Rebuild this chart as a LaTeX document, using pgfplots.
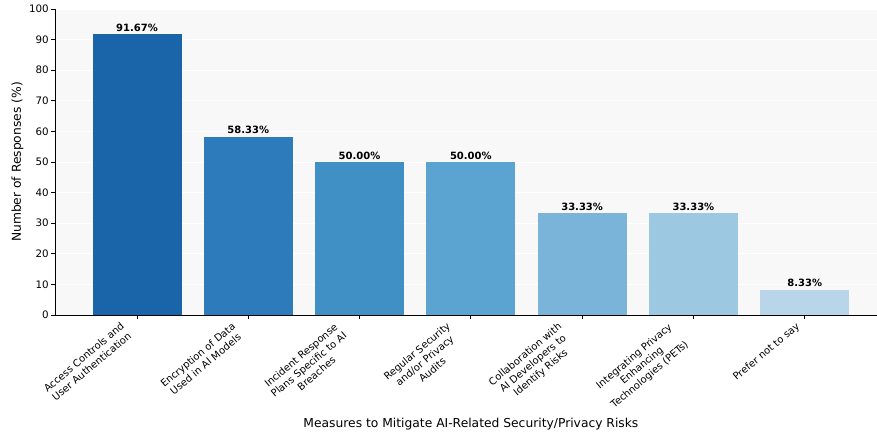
\documentclass[border=0pt]{standalone}
\usepackage{fontspec}
\setmainfont{DejaVu Sans}
\usepackage{pgfplots}
\pgfplotsset{compat=1.18}

\definecolor{b1}{HTML}{1A64AA}
\definecolor{b2}{HTML}{2D7BBA}
\definecolor{b3}{HTML}{4090C5}
\definecolor{b4}{HTML}{5BA3D0}
\definecolor{b5}{HTML}{7AB5D9}
\definecolor{b6}{HTML}{9CC9E1}
\definecolor{b7}{HTML}{B8D5EA}
\definecolor{bg}{HTML}{F8F8F8}

% rotated multi-line tick label, aligned by its bounding box like matplotlib
\newcommand\xl[1]{\rotatebox{40}{\begin{tabular}{@{}c@{}}#1\end{tabular}}}

\begin{document}
\begin{tikzpicture}[x=1pt,y=1pt]
\useasboundingbox (0,0) rectangle (877,434);
\begin{axis}[
    at={(55pt,119pt)}, anchor=south west,
    scale only axis, width=822pt, height=306pt,
    xmin=-0.737, xmax=6.65, ymin=0, ymax=100,
    axis background/.style={fill=bg},
    axis x line*=bottom, axis y line*=left,
    axis line style={black, line width=0.8pt},
    ytick={0,10,...,100},
    xtick={0,1,2,3,4,5,6},
    tick align=outside, tick style={black, line width=0.8pt},
    major tick length=4pt,
    ymajorgrids, grid style={white, line width=0.8pt},
    /pgf/number format/assume math mode=true,
    yticklabel style={font=\fontsize{10.3}{12}\selectfont, inner sep=2pt},
    xticklabels={{\xl{Access Controls and\\User Authentication}},
                 {\xl{Encryption of Data\\Used in AI Models}},
                 {\xl{Incident Response\\Plans Specific to AI\\Breaches}},
                 {\xl{Regular Security\\and/or Privacy\\Audits}},
                 {\xl{Collaboration with\\AI Developers to\\Identify Risks}},
                 {\xl{Integrating Privacy\\Enhancing\\Technologies (PETs)}},
                 {\xl{Prefer not to say}}},
    xticklabel style={anchor=north east, inner sep=2pt,
                      font=\fontsize{10}{12}\selectfont},
    xlabel={Measures to Mitigate AI-Related Security/Privacy Risks},
    ylabel={Number of Responses (\%)},
    label style={font=\fontsize{12.3}{14}\selectfont},
    xlabel style={at={(axis description cs:0.506,0)}, anchor=base, yshift=-112pt},
    ylabel style={at={(axis description cs:-0.0456,0.5)}, anchor=center},
    ybar, bar width=0.8, bar shift=0pt,
    nodes near coords, point meta=explicit symbolic,
    nodes near coords style={font=\fontsize{10}{11}\selectfont\bfseries, black, inner sep=2.5pt},
]
\addplot[fill=b1, draw=none] coordinates {(0,91.67) [91.67\%]};
\addplot[fill=b2, draw=none] coordinates {(1,58.33) [58.33\%]};
\addplot[fill=b3, draw=none] coordinates {(2,50.00) [50.00\%]};
\addplot[fill=b4, draw=none] coordinates {(3,50.00) [50.00\%]};
\addplot[fill=b5, draw=none] coordinates {(4,33.33) [33.33\%]};
\addplot[fill=b6, draw=none] coordinates {(5,33.33) [33.33\%]};
\addplot[fill=b7, draw=none] coordinates {(6,8.33) [8.33\%]};
\end{axis}
\end{tikzpicture}
\end{document}
